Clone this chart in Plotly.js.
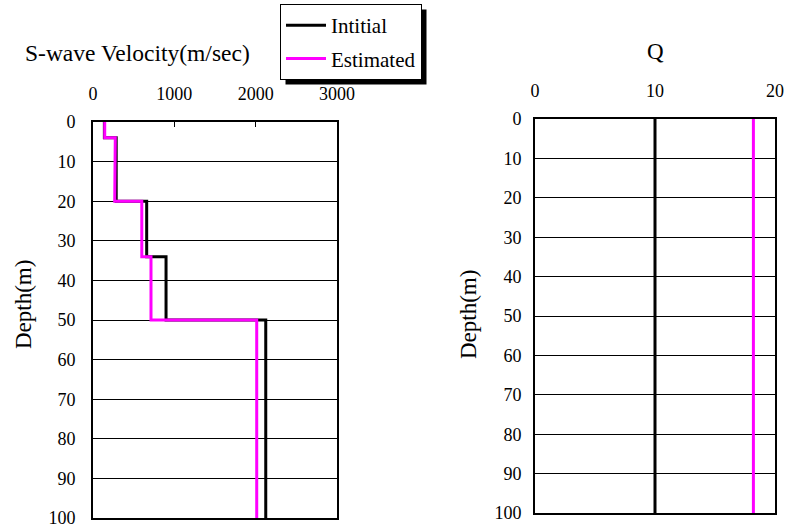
<!DOCTYPE html>
<html>
<head>
<meta charset="utf-8">
<script src="https://cdn.plot.ly/plotly-3.0.1.min.js"></script>
<style>html,body{margin:0;padding:0;background:#fff;}#chart{width:786px;height:531px;}</style>
</head>
<body>
<div id="chart"></div>
<script>
// Layer tops (m) and bottom of the model
var maxDepth = 100;
var initLayerTops = [0, 4, 20, 34, 50];
var initVs = [140, 285, 660, 898, 2124];
var estLayerTops = [0, 4, 10, 20, 34, 50];
var estVs = [144, 274, 267, 600, 713, 2013];
var qLayerTops = [0, 4, 10, 20, 34, 50];
var initQ = [10, 10, 10, 10, 10, 10];
var estQ = [18.2, 18.2, 18.2, 18.2, 18.2, 18.2];
var vsTicks = [0, 1000, 2000, 3000];
var qTicks = [0, 10, 20];
var depthTicks = [0, 10, 20, 30, 40, 50, 60, 70, 80, 90, 100];

function stepProfile(tops, vals) {
  var xs = [], ys = [];
  for (var i = 0; i < tops.length; i++) {
    var bottom = (i + 1 < tops.length) ? tops[i + 1] : maxDepth;
    xs.push(vals[i]); ys.push(tops[i]);
    xs.push(vals[i]); ys.push(bottom);
  }
  return {x: xs, y: ys};
}

var sInit = stepProfile(initLayerTops, initVs);
var sEst = stepProfile(estLayerTops, estVs);
var qInit = stepProfile(qLayerTops, initQ);
var qEst = stepProfile(qLayerTops, estQ);

var FONT = '"Liberation Serif", "Times New Roman", "DejaVu Serif", serif';
var black = '#000000', magenta = '#FF00FF';

var traces = [
  {x: sInit.x, y: sInit.y, xaxis: 'x', yaxis: 'y', mode: 'lines', name: 'Intitial',
   line: {color: black, width: 3}, legendgroup: 'a'},
  {x: sEst.x, y: sEst.y, xaxis: 'x', yaxis: 'y', mode: 'lines', name: 'Estimated',
   line: {color: magenta, width: 3}, legendgroup: 'b'},
  {x: qInit.x, y: qInit.y, xaxis: 'x2', yaxis: 'y2', mode: 'lines', name: 'Intitial',
   line: {color: black, width: 3}, showlegend: false},
  {x: qEst.x, y: qEst.y, xaxis: 'x2', yaxis: 'y2', mode: 'lines', name: 'Estimated',
   line: {color: magenta, width: 3}, showlegend: false}
];

function xAx(domain, range, ticks, anchor) {
  return {domain: domain, range: range, side: 'top', anchor: anchor,
    tickvals: ticks, ticktext: ticks.map(String), ticks: 'inside', ticklen: 5, tickcolor: black,
    showline: true, mirror: true, linecolor: black, linewidth: 2, showgrid: false, zeroline: false,
    ticklabelstandoff: 13, tickfont: {family: FONT, size: 18, color: black}, fixedrange: true};
}
function yAx(domain, anchor, standoff) {
  return {domain: domain, range: [maxDepth, 0], anchor: anchor,
    tickvals: depthTicks, ticktext: depthTicks.map(String), ticks: 'inside', ticklen: 6, tickcolor: black,
    showline: true, mirror: true, linecolor: black, linewidth: 2,
    showgrid: true, gridcolor: black, gridwidth: 1, zeroline: false,
    ticklabelstandoff: standoff, tickfont: {family: FONT, size: 18, color: black}, fixedrange: true};
}

var W = 786, H = 531;
function px(x) { return x / W; }
function py(y) { return 1 - y / H; }

var layout = {
  width: W, height: H,
  margin: {l: 0, r: 0, t: 0, b: 0},
  paper_bgcolor: '#fff', plot_bgcolor: '#fff',
  font: {family: FONT, color: black},
  showlegend: true,
  xaxis: xAx([px(93), px(337)], [0, 3000], vsTicks, 'y'),
  yaxis: yAx([py(518), py(122)], 'x', 12),
  xaxis2: xAx([px(535), px(775)], [0, 20], qTicks, 'y2'),
  yaxis2: yAx([py(513), py(119)], 'x2', 8),
  legend: {x: px(280), y: py(4), xanchor: 'left', yanchor: 'top',
    bgcolor: '#fff', bordercolor: black, borderwidth: 1,
    font: {family: FONT, size: 21, color: black}, tracegroupgap: 3, itemwidth: 40},
  shapes: [],
  annotations: [
    {text: 'S-wave Velocity(m/sec)', xref: 'paper', yref: 'paper', x: px(23), y: py(53),
     xanchor: 'left', yanchor: 'middle', showarrow: false, font: {family: FONT, size: 23.5, color: black}},
    {text: 'Q', xref: 'paper', yref: 'paper', x: px(655), y: py(51),
     xanchor: 'center', yanchor: 'middle', showarrow: false, font: {family: FONT, size: 23, color: black}},
    {text: 'Depth(m)', xref: 'paper', yref: 'paper', x: px(23), y: py(305), textangle: -90,
     xanchor: 'center', yanchor: 'middle', showarrow: false, font: {family: FONT, size: 23, color: black}},
    {text: 'Depth(m)', xref: 'paper', yref: 'paper', x: px(468), y: py(315), textangle: -90,
     xanchor: 'center', yanchor: 'middle', showarrow: false, font: {family: FONT, size: 23, color: black}}
  ]
};

var gd = document.getElementById('chart');
Plotly.newPlot(gd, traces, layout, {displayModeBar: false, staticPlot: true}).then(function () {
  // Drop shadow behind the legend box, sized from the rendered legend
  var bg = gd.querySelector('.legend rect.bg');
  if (!bg) return;
  var r = bg.getBoundingClientRect();
  var c = gd.getBoundingClientRect();
  var L = r.left - c.left, T = r.top - c.top, R = r.right - c.left, B = r.bottom - c.top;
  var off = 5;
  return Plotly.relayout(gd, {shapes: [
    {type: 'rect', xref: 'paper', yref: 'paper', x0: px(L + off), x1: px(R + off),
     y0: py(B + off), y1: py(T + off), fillcolor: black, line: {width: 0}, layer: 'below'}
  ]});
});
</script>
</body>
</html>
